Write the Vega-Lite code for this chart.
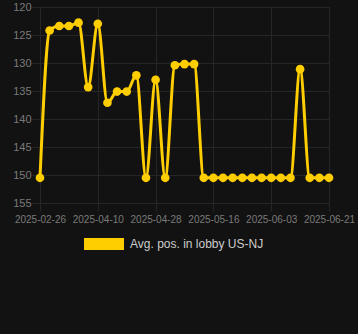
{
  "$schema": "https://vega.github.io/schema/vega-lite/v6.json",
  "width": 289,
  "height": 196,
  "autosize": {"type": "none"},
  "padding": {"left": 40, "top": 7, "right": 29, "bottom": 131},
  "background": "#121212",
  "config": {"view": {"stroke": null}, "font": "Liberation Sans"},
  "data": {"values": [
    {"date": "2025-02-26", "pos": 150.5},
    {"date": "2025-03-05", "pos": 124.2},
    {"date": "2025-03-12", "pos": 123.4},
    {"date": "2025-03-19", "pos": 123.4},
    {"date": "2025-03-26", "pos": 122.8},
    {"date": "2025-04-02", "pos": 134.3},
    {"date": "2025-04-10", "pos": 123.0},
    {"date": "2025-04-13", "pos": 137.1},
    {"date": "2025-04-16", "pos": 135.1},
    {"date": "2025-04-19", "pos": 135.1},
    {"date": "2025-04-22", "pos": 132.2},
    {"date": "2025-04-25", "pos": 150.5},
    {"date": "2025-04-28", "pos": 133.0},
    {"date": "2025-05-01", "pos": 150.5},
    {"date": "2025-05-04", "pos": 130.4},
    {"date": "2025-05-07", "pos": 130.2},
    {"date": "2025-05-10", "pos": 130.2},
    {"date": "2025-05-13", "pos": 150.5},
    {"date": "2025-05-16", "pos": 150.5},
    {"date": "2025-05-19", "pos": 150.5},
    {"date": "2025-05-22", "pos": 150.5},
    {"date": "2025-05-25", "pos": 150.5},
    {"date": "2025-05-28", "pos": 150.5},
    {"date": "2025-05-31", "pos": 150.5},
    {"date": "2025-06-03", "pos": 150.5},
    {"date": "2025-06-06", "pos": 150.5},
    {"date": "2025-06-09", "pos": 150.5},
    {"date": "2025-06-12", "pos": 131.1},
    {"date": "2025-06-15", "pos": 150.5},
    {"date": "2025-06-18", "pos": 150.5},
    {"date": "2025-06-21", "pos": 150.5}
  ]},
  "encoding": {
    "x": {
      "field": "date", "type": "ordinal", "sort": null,
      "scale": {"type": "point", "padding": 0},
      "axis": {
        "values": ["2025-02-26", "2025-04-10", "2025-04-28", "2025-05-16", "2025-06-03", "2025-06-21"],
        "title": null, "labelAngle": 0, "grid": true, "gridColor": "#262626",
        "tickColor": "#262626", "tickSize": 8, "domain": false,
        "labelColor": "#7a7a7a", "labelFontSize": 10, "labelPadding": 3
      }
    },
    "y": {
      "field": "pos", "type": "quantitative",
      "scale": {"domain": [120, 155], "reverse": true, "nice": false, "zero": false},
      "axis": {
        "values": [120, 125, 130, 135, 140, 145, 150, 155],
        "title": null, "grid": true, "gridColor": "#262626",
        "tickColor": "#262626", "tickSize": 8, "domain": false,
        "labelColor": "#7a7a7a", "labelFontSize": 11, "labelPadding": 1
      }
    }
  },
  "layer": [
    {
      "mark": {"type": "line", "interpolate": "monotone", "color": "#FFCE00", "strokeWidth": 3}
    },
    {
      "mark": {"type": "point", "filled": true, "opacity": 1, "size": 75},
      "encoding": {
        "color": {
          "datum": "Avg. pos. in lobby US-NJ",
          "scale": {"range": ["#FFCE00"]},
          "legend": {
            "orient": "none", "legendX": 44, "legendY": 217, "title": null,
            "symbolType": "M-1,-0.3H1V0.3H-1Z", "symbolSize": 1600,
            "symbolStrokeWidth": 0, "symbolOpacity": 1,
            "labelColor": "#cccccc", "labelFontSize": 12, "labelOffset": 6, "padding": 0
          }
        }
      }
    }
  ]
}
